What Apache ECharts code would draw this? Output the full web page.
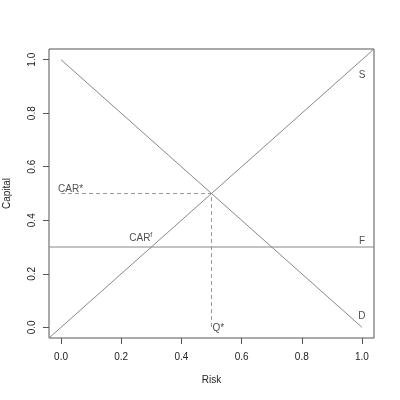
<!DOCTYPE html>
<html><head><meta charset="utf-8">
<script src="https://cdn.jsdelivr.net/npm/echarts@6/dist/echarts.min.js"></script>
<style>html,body{margin:0;padding:0;background:#fff}#c{width:400px;height:400px}</style>
</head><body><div id="c"></div>
<script>
const tickValues = [0, 0.2, 0.4, 0.6, 0.8, 1.0];
const axisRange = [-0.04, 1.04];
const supplyLine = [[-0.04, -0.04], [1.04, 1.04]];
const demandLine = [[0, 1], [1, 0]];
const fixedLine = [[-0.04, 0.3], [1.04, 0.3]];
const equilibriumGuide = [[0, 0.5], [0.5, 0.5], [0.5, 0]];
const labelNames = ['CAR*', 'CARf', 'S', 'F', 'D', 'Q*'];
const labelX = [0.0, 0.265, 1.0, 1.0, 1.0, 0.5];
const labelY = [0.5, 0.3, 0.92, 0.3, 0.02, 0.0];

const FONT = '"Liberation Sans", Arial, sans-serif';
const lineGray = '#888888';

function lineSeries(data, dashed) {
  return {
    type: 'line', data: data, symbol: 'none', silent: true, animation: false,
    lineStyle: { color: dashed ? '#999999' : lineGray, width: 1, type: dashed ? [4, 3] : 'solid' },
    z: 2
  };
}

const labelData = labelNames.map((n, i) => {
  const d = { value: [labelX[i], labelY[i]], name: n };
  let lab = { show: true, color: '#222', fontSize: 10, fontFamily: FONT };
  if (n === 'CAR*') { lab = Object.assign(lab, { position: 'top', align: 'left', offset: [-3, 6], formatter: 'CAR*' }); }
  else if (n === 'CARf') { lab = Object.assign(lab, { position: 'top', offset: [0, 3], formatter: 'CAR{sup|f}',
      rich: { sup: { fontSize: 7, color: '#222', fontFamily: FONT, padding: [0, 0, 6, 0] } } }); }
  else if (n === 'Q*') { lab = Object.assign(lab, { position: 'right', offset: [-4, 1], formatter: 'Q*' }); }
  else { lab = Object.assign(lab, { position: 'top', offset: [0, 4], formatter: n }); }
  d.label = lab;
  return d;
});

const chart = echarts.init(document.getElementById('c'));
chart.setOption({
  backgroundColor: '#fff',
  animation: false,
  grid: { left: 49, right: 26, top: 49, bottom: 62, show: true, borderColor: '#555', borderWidth: 1,
    backgroundColor: 'transparent', containLabel: false, outerBoundsMode: 'none' },
  xAxis: {
    type: 'value', min: axisRange[0], max: axisRange[1],
    name: 'Risk', nameLocation: 'middle', nameGap: 37,
    nameTextStyle: { fontSize: 10, color: '#222', fontFamily: FONT },
    axisLine: { show: false, onZero: false },
    axisTick: { show: true, inside: false, length: 6, customValues: tickValues, lineStyle: { color: '#555' } },
    axisLabel: { customValues: tickValues, fontSize: 10, color: '#222', fontFamily: FONT, margin: 14,
      formatter: v => v.toFixed(1) },
    splitLine: { show: false }
  },
  yAxis: {
    type: 'value', min: axisRange[0], max: axisRange[1],
    name: 'Capital', nameLocation: 'middle', nameGap: 37,
    nameTextStyle: { fontSize: 10, color: '#222', fontFamily: FONT },
    axisLine: { show: false, onZero: false },
    axisTick: { show: true, inside: false, length: 6, customValues: tickValues, lineStyle: { color: '#555' } },
    axisLabel: { customValues: tickValues, fontSize: 10, color: '#222', fontFamily: FONT, margin: 12, rotate: 90,
      formatter: v => v.toFixed(1) },
    splitLine: { show: false }
  },
  series: [
    lineSeries(supplyLine, false),
    lineSeries(demandLine, false),
    lineSeries(fixedLine, false),
    lineSeries(equilibriumGuide, true),
    { type: 'scatter', data: labelData, symbolSize: 0, silent: true, z: 5 }
  ]
});
</script></body></html>
